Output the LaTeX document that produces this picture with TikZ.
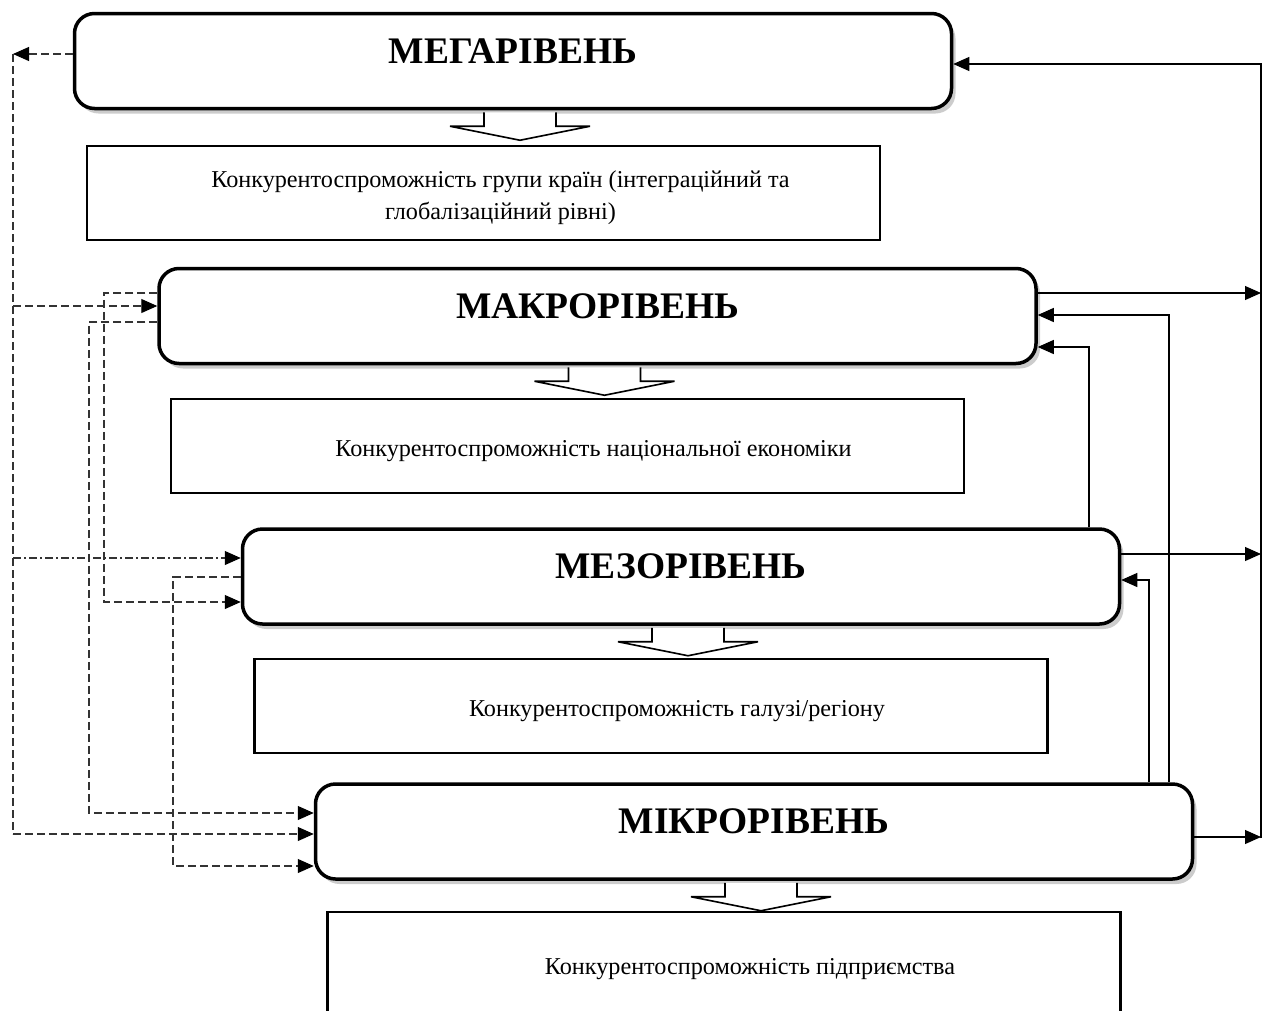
\documentclass[tikz,border=0pt]{standalone}
\usepackage{fontspec}
\setmainfont{Liberation Serif}
\usetikzlibrary{arrows.meta,shadows}

\tikzset{
  level/.style={draw, line width=3.5pt, rounded corners=20pt, fill=white,
    minimum width=877pt, minimum height=95pt,
    drop shadow={shadow xshift=4pt, shadow yshift=-5pt, opacity=0.4},
    font=\bfseries\fontsize{37.5}{40}\selectfont, text height=24pt, text depth=20pt},
  info/.style={draw, line width=2.3pt, minimum width=793pt, minimum height=94pt},
  infotext/.style={font=\fontsize{24.2}{32}\selectfont, align=center, yshift=-5pt},
  blockarrow/.style={draw, fill=white, line width=1.6pt, line join=miter},
  conn/.style={->, line width=1.1pt},
  dconn/.style={-{Triangle[length=16pt,width=14pt,black]}, line width=1.1pt, black!80, dash pattern=on 8pt off 4pt},
  ddconn/.style={dconn, dash pattern=on 8pt off 3pt on 2pt off 3pt}
}

\begin{document}
\begin{tikzpicture}[x=1pt, y=-1pt, >={Triangle[length=16pt,width=14pt]}]
  \useasboundingbox (0,0) rectangle (1275,1010);

  \node[level] (mega)  at (513,61)    {МЕГАРІВЕНЬ};
  \node[level] (makro) at (597.5,316) {МАКРОРІВЕНЬ};
  \node[level] (mezo)  at (681,576.5) {МЕЗОРІВЕНЬ};
  \node[level] (mikro) at (754,831.5) {МІКРОРІВЕНЬ};

  \node[info, label={[infotext, xshift=17pt]center:Конкурентоспроможність групи країн (інтеграційний та\\глобалізаційний рівні)}] (t1) at (483.5,193) {};
  \node[info, label={[infotext, xshift=26pt]center:Конкурентоспроможність національної економіки}] (t2) at (567.5,446) {};
  \node[info, label={[infotext, xshift=26pt]center:Конкурентоспроможність галузі/регіону}] (t3) at (651,706) {};
  \node[info, minimum height=104pt, label={[infotext, xshift=26pt]center:Конкурентоспроможність підприємства}] (t4) at (724,964) {};

  \foreach \b in {mega,makro,mezo,mikro}
    \draw[blockarrow] ([xshift=7pt,yshift=-2pt]\b.south) ++(-36,0) -- ++(0,14) -- ++(-34,0)
      -- ++(70,14) -- ++(70,-14) -- ++(-34,0) -- ++(0,-14);

  \coordinate (busR) at (1261,64);
  \coordinate (busRend) at (1261,838);
  \draw[conn] (busRend) -- (busR) -- (mega.east |- busR);
  \draw[conn] (makro.east |- 0,293) -- (busR |- 0,293);
  \draw[conn] (mezo.east |- 0,554) -- (busR |- 0,554);
  \draw[conn] (mikro.east |- 0,837) -- (busR |- 0,837);
  \draw[conn] (mikro.north -| 1169,0) |- (makro.east |- 0,315);
  \draw[conn] (mezo.north -| 1089,0) |- (makro.east |- 0,347);
  \draw[conn] (mikro.north -| 1149,0) |- (mezo.east |- 0,580);

  \coordinate (busL) at (13,54);
  \coordinate (busLend) at (13,834);
  \draw[dconn] (mega.west |- busL) -- (busL);
  \draw[dconn, -] (busL) -- (busLend);
  \draw[dconn] (busL |- 0,306) -- (makro.west |- 0,306);
  \draw[ddconn] (busL |- 0,558) -- (mezo.west |- 0,558);
  \draw[dconn] (busLend) -- (mikro.west |- busLend);
  \draw[dconn] (makro.west |- 0,293) -- (104,293) |- (mezo.west |- 0,602);
  \draw[dconn] (makro.west |- 0,322) -- (89,322) |- (mikro.west |- 0,813);
  \draw[dconn] (mezo.west |- 0,577) -- (173,577) |- (mikro.west |- 0,866);
\end{tikzpicture}
\end{document}
